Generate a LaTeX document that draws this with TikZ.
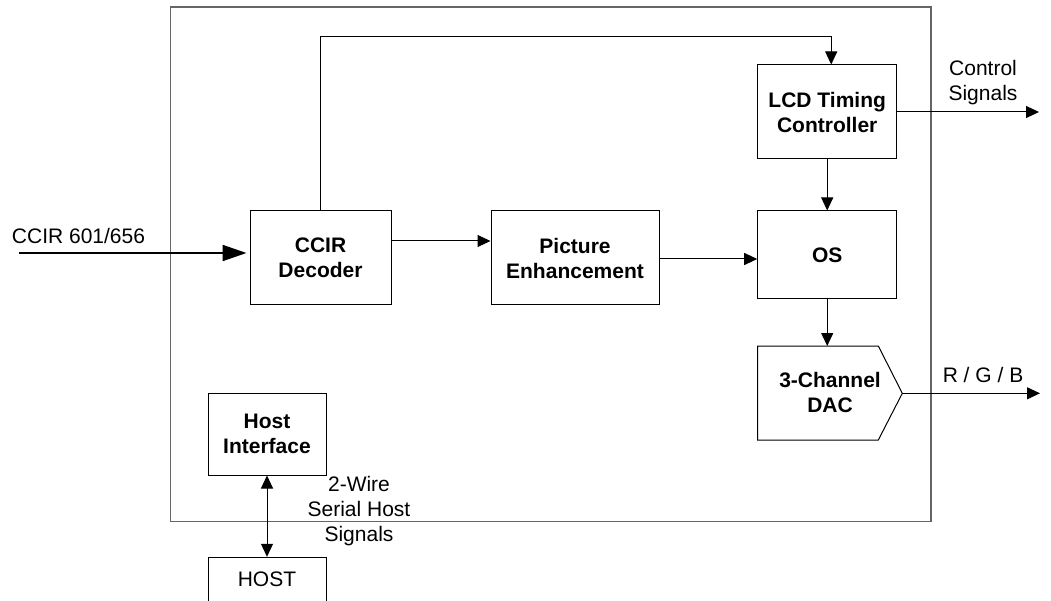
\documentclass[tikz,border=0pt]{standalone}
\usepackage{fontspec}
\setmainfont{Liberation Sans}
\usetikzlibrary{arrows.meta}
\begin{document}
\begin{tikzpicture}[x=1pt,y=-1pt,
  every node/.style={font=\fontsize{21}{25}\selectfont, inner sep=0pt, align=center},
  blk/.style={draw=black, line width=1pt, font=\fontsize{21}{25}\selectfont\bfseries},
  outerbox/.style={draw=black!60, line width=1.4pt},
  arr/.style={line width=1pt, -{Triangle[length=13pt,width=12pt]}},
  darr/.style={line width=1pt, {Triangle[length=13pt,width=12pt]}-{Triangle[length=13pt,width=12pt]}},
  bigarr/.style={line width=2pt, -{Triangle[length=24pt,width=16pt]}}]
\useasboundingbox (0,0) rectangle (1051,601);
\clip (0,0) rectangle (1051,600);
% outer chip boundary
\draw[outerbox] (170.3,7) rectangle (931,521.3);
% blocks
\node[blk, minimum width=141, minimum height=94] (dec) at (320.5,258) {CCIR\\Decoder};
\node[blk, minimum width=168, minimum height=94] (pe) at (575,258) {Picture\\Enhancement};
\node[blk, minimum width=139, minimum height=94] (lcd) at (827.2,112) {LCD Timing\\Controller};
\node[blk, minimum width=139, minimum height=88] (os) at (827.2,255) {OS};
\node[blk, minimum width=118, minimum height=82] (hi) at (267,434) {Host\\Interface};
\node[draw=black, line width=1pt, minimum width=118, minimum height=44] (host) at (267,579.3) {HOST};
% DAC pentagon
\draw[line width=1pt] (757.7,346) -- (878.3,346) -- (902.3,393.3) -- (878.3,440) -- (757.7,440) -- cycle;
\node[font=\fontsize{21}{25}\selectfont\bfseries] (dac) at (830,392) {3-Channel\\DAC};
\coordinate (dactop) at (827.2,346);
\coordinate (dactip) at (902.3,393.3);
% outside ends
\coordinate (in) at (19,253);
\coordinate (ctrl) at (1039,112);
\coordinate (rgb) at (1040,393.3);
% labels
\node (inlbl) at (78.5,236) {CCIR 601/656};
\node (ctrllbl) at (983,82.5) {Control\\Signals};
\node (rgblbl) at (983,375) {R / G / B};
\node (serlbl) at (359,511) {2-Wire\\Serial Host\\Signals};
% connectors
\draw[bigarr, shorten >=3pt] (in) -- (in -| dec.west);
\draw[arr] (dec.north) -- (dec.north |- 0,37) -| ([xshift=4pt]lcd.north);
\draw[arr] ([yshift=17pt]dec.east) -- ([yshift=17pt]pe.west);
\draw[arr] ([yshift=-1pt]pe.east) -- ([yshift=-1pt]pe.east -| os.west);
\draw[arr] (lcd.east) -- (ctrl);
\draw[arr] (lcd.south) -- (os.north);
\draw[arr] (os.south) -- (dactop);
\draw[arr] (dactip) -- (rgb);
\draw[darr] (hi.south) -- (host.north);
\end{tikzpicture}
\end{document}
